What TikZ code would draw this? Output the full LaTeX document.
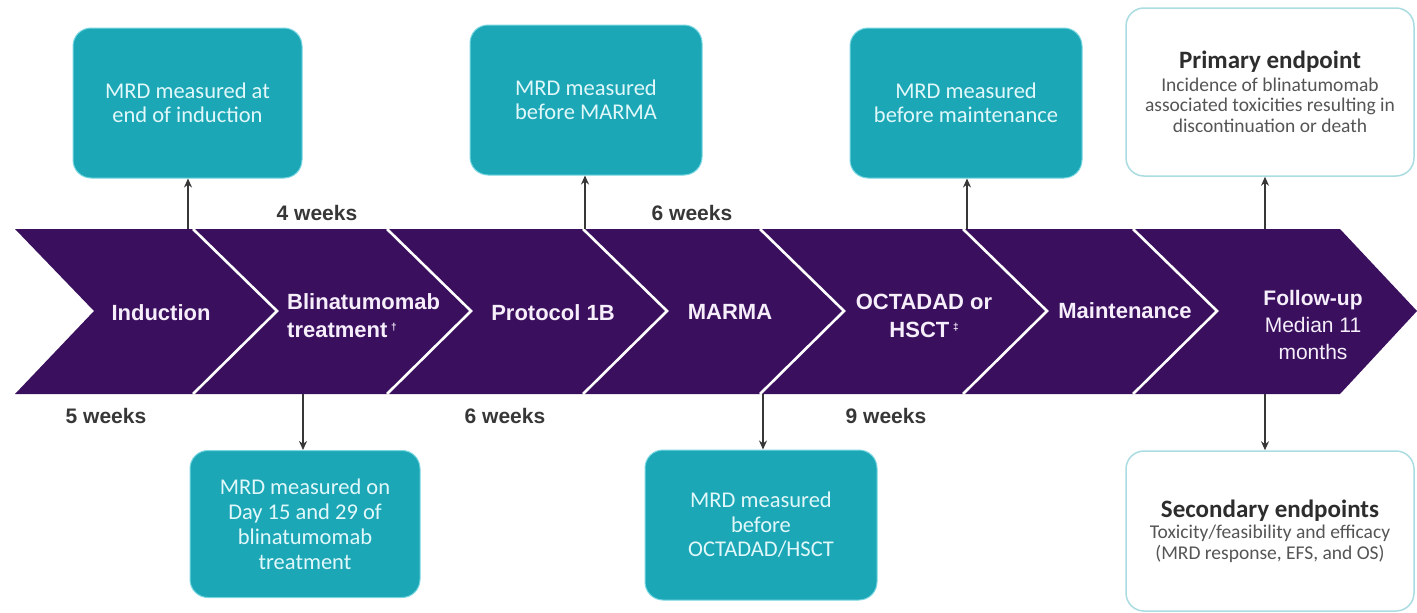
\documentclass[tikz,border=0pt]{standalone}
\usepackage{fontspec}
\setmainfont{Liberation Sans}
\newfontfamily\boxfont{Carlito}
\usetikzlibrary{arrows.meta}
\definecolor{bandpurple}{RGB}{58,16,94}
\definecolor{tealbox}{RGB}{28,167,183}
\definecolor{tealedge}{RGB}{120,215,225}
\definecolor{boxtext}{RGB}{225,248,250}
\definecolor{bandtext}{RGB}{246,238,250}
\definecolor{weekgray}{RGB}{55,55,55}
\definecolor{endedge}{RGB}{170,220,225}
\definecolor{endtitle}{RGB}{45,45,45}
\definecolor{endbody}{RGB}{85,85,85}
\begin{document}
\begin{tikzpicture}[x=1pt,y=-1pt,
  mrdbox/.style={fill=tealbox, draw=tealedge, line width=1pt, rounded corners=18pt,
    text=boxtext, align=center, inner sep=0pt,
    font=\boxfont\fontsize{22.5}{24.5}\selectfont},
  endbox/.style={fill=white, draw=endedge, line width=1.5pt, rounded corners=18pt,
    align=center, inner sep=0pt, text=endbody,
    font=\boxfont\fontsize{19.5}{20.5}\selectfont},
  endtitlefont/.style={},
  stagetext/.style={text=bandtext, font=\bfseries\fontsize{22}{28}\selectfont, inner sep=0pt},
  weektext/.style={text=weekgray, font=\bfseries\fontsize{21}{24}\selectfont, inner sep=0pt},
  link/.style={draw=weekgray, line width=2pt, -{Stealth[length=9pt,width=8pt]}},
  sepline/.style={draw=white, line width=2.6pt}
]
\useasboundingbox (0,0) rectangle (1417,613);

% band
\fill[bandpurple] (15,229) -- (1340,229) -- (1417,311) -- (1340,394) -- (15,394) -- (94,311) -- cycle;
\foreach \xs in {193,387,583,760,963,1133}{
  \draw[sepline] (\xs,229) -- ({\xs+84},311) -- (\xs,394);
}

% stage labels
\node[stagetext] (induction) at (161,313) {Induction};
\node[stagetext, align=left, anchor=west] (blina) at (287,316)
  {Blinatumomab\\treatment\,\raisebox{0.6ex}{\fontsize{10}{10}\selectfont\textdagger}};
\node[stagetext] (prot) at (553,313) {Protocol 1B};
\node[stagetext] (marma) at (730,312) {MARMA};
\node[stagetext, align=center] (octa) at (924,316)
  {OCTADAD or\\HSCT\,\raisebox{0.6ex}{\fontsize{10}{10}\selectfont\textdaggerdbl}};
\node[stagetext] (maint) at (1125,311) {Maintenance};
\node[stagetext, align=center, font=\fontsize{21}{27}\selectfont] (follow) at (1313,325)
  {\textbf{Follow-up}\\Median 11\\months};

% week labels
\node[weektext] (w4) at (317,213) {4 weeks};
\node[weektext] (w6a) at (692,213) {6 weeks};
\node[weektext] (w5) at (106,416) {5 weeks};
\node[weektext] (w6b) at (505,416) {6 weeks};
\node[weektext] (w9) at (886,416) {9 weeks};

% MRD boxes
\node[mrdbox, minimum width=229pt, minimum height=150pt] (b1) at (187.5,103)
  {MRD measured at\\end of induction};
\node[mrdbox, minimum width=232pt, minimum height=150pt] (b2) at (586,100)
  {MRD measured\\before MARMA};
\node[mrdbox, minimum width=232pt, minimum height=150pt] (b3) at (966,103)
  {MRD measured\\before maintenance};
\node[mrdbox, minimum width=230pt, minimum height=147pt,
  font=\boxfont\fontsize{22.5}{25}\selectfont] (b4) at (305,524)
  {MRD measured on\\Day 15 and 29 of\\blinatumomab\\treatment};
\node[mrdbox, minimum width=232pt, minimum height=150pt] (b5) at (761,525)
  {MRD measured\\before\\OCTADAD/HSCT};

% endpoint boxes
\node[endbox, minimum width=288pt, minimum height=168pt] (prim) at (1270,92)
  {{\bfseries\fontsize{25}{26}\selectfont\color{endtitle}Primary endpoint}\\[2pt]
   Incidence of blinatumomab\\associated toxicities resulting in\\discontinuation or death};
\node[endbox, minimum width=288pt, minimum height=160pt] (sec) at (1270,531)
  {{\bfseries\fontsize{25}{26}\selectfont\color{endtitle}Secondary endpoints}\\[1pt]
   Toxicity/feasibility and efficacy\\(MRD response, EFS, and OS)};

% arrow start coordinates on the band
\coordinate (t1) at (188,229);
\coordinate (t2) at (585,229);
\coordinate (t3) at (967,229);
\coordinate (t4) at (1265,229);
\coordinate (d1) at (303,394);
\coordinate (d2) at (763,394);
\coordinate (d3) at (1265,394);

\draw[link] (t1) -- (t1 |- b1.south);
\draw[link] (t2) -- (t2 |- b2.south);
\draw[link] (t3) -- (t3 |- b3.south);
\draw[link] (t4) -- (t4 |- prim.south);
\draw[link] (d1) -- (d1 |- b4.north);
\draw[link] (d2) -- (d2 |- b5.north);
\draw[link] (d3) -- (d3 |- sec.north);
\end{tikzpicture}
\end{document}
